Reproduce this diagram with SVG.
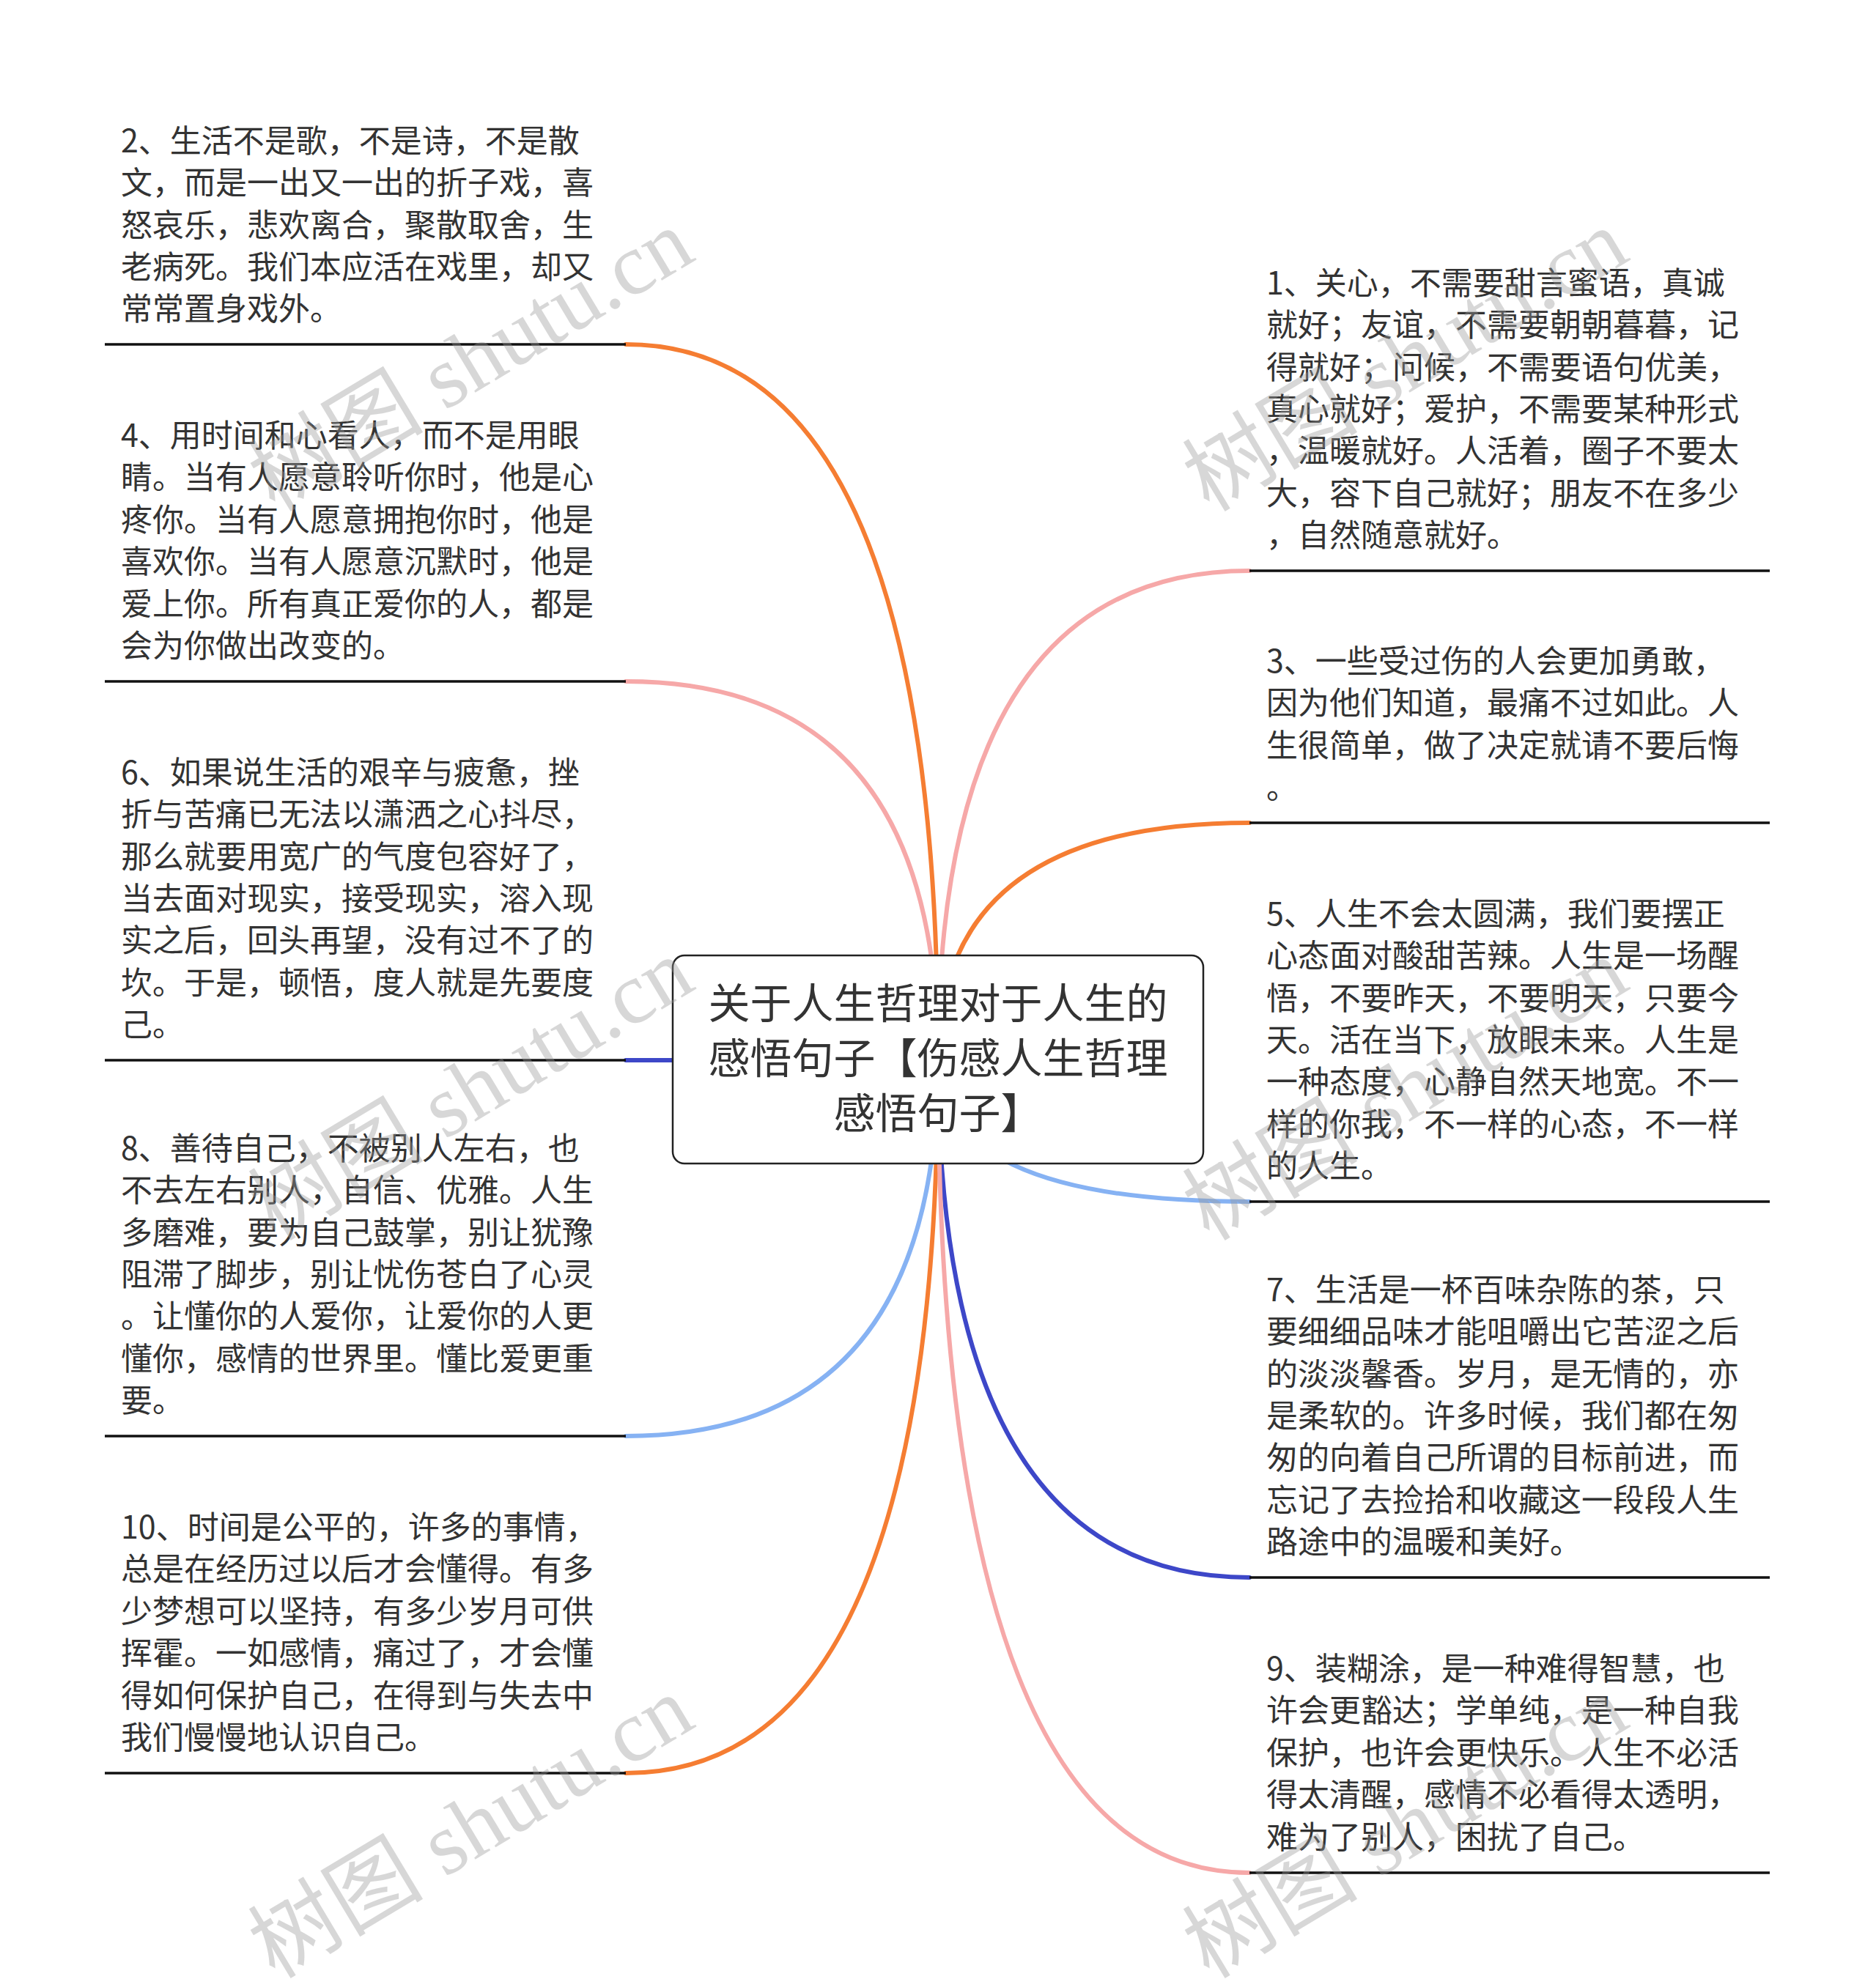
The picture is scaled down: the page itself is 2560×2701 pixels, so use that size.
<svg xmlns="http://www.w3.org/2000/svg" width="2560" height="2701" viewBox="0 0 2560 2701">
<style>
.t{font-family:"Noto Sans CJK SC","Noto Sans",sans-serif;font-size:43px;fill:#333;}
.c{font-family:"Noto Sans CJK SC","Noto Sans",sans-serif;font-size:57px;fill:#333;text-anchor:middle;}
.ul{stroke:#111;stroke-width:3.5;fill:none;}
.e{fill:none;stroke-width:6;stroke-linecap:round;}
.or{stroke:#F57D32;}
.pk{stroke:#F6A8A8;}
.lb{stroke:#86B2F3;}
.db{stroke:#3D47C8;}
.wm{font-family:"Liberation Serif","Noto Sans CJK SC",serif;font-size:120px;fill:#999;opacity:0.38;}
</style>
<rect width="2560" height="2701" fill="#fff"/>
<g id="connectors">
<path class="e or" d="M1280 1446 Q1280 470 854 470"/>
<path class="e pk" d="M1280 1446 Q1280 930 854 930"/>
<path class="e db" d="M1280 1446 Q1280 1447 854 1447"/>
<path class="e lb" d="M1280 1446 Q1280 1960 854 1960"/>
<path class="e or" d="M1280 1446 Q1280 2420 854 2420"/>
<path class="e pk" d="M1280 1446 Q1280 779 1705 779"/>
<path class="e or" d="M1280 1446 Q1280 1123 1705 1123"/>
<path class="e lb" d="M1280 1446 Q1280 1640 1705 1640"/>
<path class="e db" d="M1280 1446 Q1280 2153 1705 2153"/>
<path class="e pk" d="M1280 1446 Q1280 2556 1705 2556"/>
</g>
<g id="center">
<rect x="918" y="1304" width="724" height="284" rx="16" fill="#fff" stroke="#222" stroke-width="2.5"/>
<text class="c" x="1280" y="1390">关于人生哲理对于人生的</text>
<text class="c" x="1280" y="1465">感悟句子【伤感人生哲理</text>
<text class="c" x="1280" y="1540">感悟句子】</text>
</g>
<g id="node2">
<text class="t" x="165" y="208">2、生活不是歌，不是诗，不是散</text>
<text class="t" x="165" y="265">文，而是一出又一出的折子戏，喜</text>
<text class="t" x="165" y="323">怒哀乐，悲欢离合，聚散取舍，生</text>
<text class="t" x="165" y="380">老病死。我们本应活在戏里，却又</text>
<text class="t" x="165" y="437">常常置身戏外。</text>
<line class="ul" x1="143" y1="470" x2="854" y2="470"/>
</g>
<g id="node4">
<text class="t" x="165" y="610">4、用时间和心看人，而不是用眼</text>
<text class="t" x="165" y="667">睛。当有人愿意聆听你时，他是心</text>
<text class="t" x="165" y="725">疼你。当有人愿意拥抱你时，他是</text>
<text class="t" x="165" y="782">喜欢你。当有人愿意沉默时，他是</text>
<text class="t" x="165" y="840">爱上你。所有真正爱你的人，都是</text>
<text class="t" x="165" y="897">会为你做出改变的。</text>
<line class="ul" x1="143" y1="930" x2="854" y2="930"/>
</g>
<g id="node6">
<text class="t" x="165" y="1070">6、如果说生活的艰辛与疲惫，挫</text>
<text class="t" x="165" y="1127">折与苦痛已无法以潇洒之心抖尽，</text>
<text class="t" x="165" y="1185">那么就要用宽广的气度包容好了，</text>
<text class="t" x="165" y="1242">当去面对现实，接受现实，溶入现</text>
<text class="t" x="165" y="1299">实之后，回头再望，没有过不了的</text>
<text class="t" x="165" y="1357">坎。于是，顿悟，度人就是先要度</text>
<text class="t" x="165" y="1414">己。</text>
<line class="ul" x1="143" y1="1447" x2="854" y2="1447"/>
</g>
<g id="node8">
<text class="t" x="165" y="1583">8、善待自己，不被别人左右，也</text>
<text class="t" x="165" y="1640">不去左右别人，自信、优雅。人生</text>
<text class="t" x="165" y="1698">多磨难，要为自己鼓掌，别让犹豫</text>
<text class="t" x="165" y="1755">阻滞了脚步，别让忧伤苍白了心灵</text>
<text class="t" x="165" y="1812">。让懂你的人爱你，让爱你的人更</text>
<text class="t" x="165" y="1870">懂你，感情的世界里。懂比爱更重</text>
<text class="t" x="165" y="1927">要。</text>
<line class="ul" x1="143" y1="1960" x2="854" y2="1960"/>
</g>
<g id="node10">
<text class="t" x="165" y="2100">10、时间是公平的，许多的事情，</text>
<text class="t" x="165" y="2157">总是在经历过以后才会懂得。有多</text>
<text class="t" x="165" y="2215">少梦想可以坚持，有多少岁月可供</text>
<text class="t" x="165" y="2272">挥霍。一如感情，痛过了，才会懂</text>
<text class="t" x="165" y="2330">得如何保护自己，在得到与失去中</text>
<text class="t" x="165" y="2387">我们慢慢地认识自己。</text>
<line class="ul" x1="143" y1="2420" x2="854" y2="2420"/>
</g>
<g id="node1">
<text class="t" x="1728" y="402">1、关心，不需要甜言蜜语，真诚</text>
<text class="t" x="1728" y="459">就好；友谊，不需要朝朝暮暮，记</text>
<text class="t" x="1728" y="517">得就好；问候，不需要语句优美，</text>
<text class="t" x="1728" y="574">真心就好；爱护，不需要某种形式</text>
<text class="t" x="1728" y="631">，温暖就好。人活着，圈子不要太</text>
<text class="t" x="1728" y="689">大，容下自己就好；朋友不在多少</text>
<text class="t" x="1728" y="746">，自然随意就好。</text>
<line class="ul" x1="1705" y1="779" x2="2415" y2="779"/>
</g>
<g id="node3">
<text class="t" x="1728" y="918">3、一些受过伤的人会更加勇敢，</text>
<text class="t" x="1728" y="975">因为他们知道，最痛不过如此。人</text>
<text class="t" x="1728" y="1033">生很简单，做了决定就请不要后悔</text>
<text class="t" x="1728" y="1090">。</text>
<line class="ul" x1="1705" y1="1123" x2="2415" y2="1123"/>
</g>
<g id="node5">
<text class="t" x="1728" y="1263">5、人生不会太圆满，我们要摆正</text>
<text class="t" x="1728" y="1320">心态面对酸甜苦辣。人生是一场醒</text>
<text class="t" x="1728" y="1378">悟，不要昨天，不要明天，只要今</text>
<text class="t" x="1728" y="1435">天。活在当下，放眼未来。人生是</text>
<text class="t" x="1728" y="1492">一种态度，心静自然天地宽。不一</text>
<text class="t" x="1728" y="1550">样的你我，不一样的心态，不一样</text>
<text class="t" x="1728" y="1607">的人生。</text>
<line class="ul" x1="1705" y1="1640" x2="2415" y2="1640"/>
</g>
<g id="node7">
<text class="t" x="1728" y="1776">7、生活是一杯百味杂陈的茶，只</text>
<text class="t" x="1728" y="1833">要细细品味才能咀嚼出它苦涩之后</text>
<text class="t" x="1728" y="1891">的淡淡馨香。岁月，是无情的，亦</text>
<text class="t" x="1728" y="1948">是柔软的。许多时候，我们都在匆</text>
<text class="t" x="1728" y="2005">匆的向着自己所谓的目标前进，而</text>
<text class="t" x="1728" y="2063">忘记了去捡拾和收藏这一段段人生</text>
<text class="t" x="1728" y="2120">路途中的温暖和美好。</text>
<line class="ul" x1="1705" y1="2153" x2="2415" y2="2153"/>
</g>
<g id="node9">
<text class="t" x="1728" y="2293">9、装糊涂，是一种难得智慧，也</text>
<text class="t" x="1728" y="2350">许会更豁达；学单纯，是一种自我</text>
<text class="t" x="1728" y="2408">保护，也许会更快乐。人生不必活</text>
<text class="t" x="1728" y="2465">得太清醒，感情不必看得太透明，</text>
<text class="t" x="1728" y="2523">难为了别人，困扰了自己。</text>
<line class="ul" x1="1705" y1="2556" x2="2415" y2="2556"/>
</g>
<g id="watermarks">
<text class="wm" transform="translate(375 700) rotate(-31)">树图 shutu.cn</text>
<text class="wm" transform="translate(375 1695) rotate(-31)">树图 shutu.cn</text>
<text class="wm" transform="translate(375 2702) rotate(-31)">树图 shutu.cn</text>
<text class="wm" transform="translate(1650 700) rotate(-31)">树图 shutu.cn</text>
<text class="wm" transform="translate(1650 1695) rotate(-31)">树图 shutu.cn</text>
<text class="wm" transform="translate(1650 2702) rotate(-31)">树图 shutu.cn</text>
</g>
</svg>
